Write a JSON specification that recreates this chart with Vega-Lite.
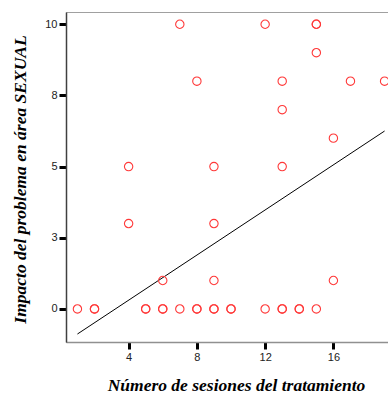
{
  "$schema": "https://vega.github.io/schema/vega-lite/v6.json",
  "autosize": "none",
  "width": 322,
  "height": 330,
  "padding": {"left": 66, "top": 12, "right": 0, "bottom": 55},
  "background": "white",
  "config": {
    "view": {"stroke": "#a0a0a0", "strokeWidth": 1},
    "axis": {
      "grid": false,
      "labelFont": "Liberation Sans",
      "labelFontSize": 11,
      "labelColor": "#222",
      "tickColor": "black",
      "tickWidth": 3,
      "tickSize": 7,
      "labelPadding": 2,
      "titleFont": "Liberation Serif",
      "titleFontStyle": "italic",
      "titleFontWeight": "bold",
      "titleFontSize": 17.5,
      "titleColor": "black"
    }
  },
  "datasets": {
    "pts": [
      {"sesiones": 7, "impacto": 10}, {"sesiones": 12, "impacto": 10}, {"sesiones": 15, "impacto": 10}, {"sesiones": 15, "impacto": 10},
      {"sesiones": 15, "impacto": 9},
      {"sesiones": 8, "impacto": 8}, {"sesiones": 13, "impacto": 8}, {"sesiones": 17, "impacto": 8}, {"sesiones": 19, "impacto": 8},
      {"sesiones": 13, "impacto": 7},
      {"sesiones": 16, "impacto": 6},
      {"sesiones": 4, "impacto": 5}, {"sesiones": 9, "impacto": 5}, {"sesiones": 13, "impacto": 5},
      {"sesiones": 4, "impacto": 3}, {"sesiones": 9, "impacto": 3},
      {"sesiones": 6, "impacto": 1}, {"sesiones": 9, "impacto": 1}, {"sesiones": 16, "impacto": 1},
      {"sesiones": 1, "impacto": 0}, {"sesiones": 2, "impacto": 0}, {"sesiones": 2, "impacto": 0},
      {"sesiones": 5, "impacto": 0}, {"sesiones": 5, "impacto": 0}, {"sesiones": 6, "impacto": 0}, {"sesiones": 6, "impacto": 0},
      {"sesiones": 7, "impacto": 0}, {"sesiones": 8, "impacto": 0}, {"sesiones": 8, "impacto": 0},
      {"sesiones": 9, "impacto": 0}, {"sesiones": 9, "impacto": 0}, {"sesiones": 10, "impacto": 0}, {"sesiones": 10, "impacto": 0},
      {"sesiones": 12, "impacto": 0}, {"sesiones": 13, "impacto": 0}, {"sesiones": 13, "impacto": 0},
      {"sesiones": 14, "impacto": 0}, {"sesiones": 14, "impacto": 0}, {"sesiones": 15, "impacto": 0}
    ],
    "fit": [
      {"sesiones": 1, "impacto": -0.88},
      {"sesiones": 19, "impacto": 6.25}
    ]
  },
  "encoding": {
    "x": {
      "field": "sesiones", "type": "quantitative",
      "scale": {"domain": [0.33, 19.2], "nice": false, "zero": false},
      "axis": {
        "values": [4, 8, 12, 16],
        "title": "Número de sesiones del tratamiento",
        "domainColor": "#909090", "domainWidth": 1.5,
        "titleX": 170, "titleY": 43, "titleBaseline": "middle"
      }
    },
    "y": {
      "field": "impacto", "type": "quantitative",
      "scale": {"domain": [-1.16, 10.43], "nice": false, "zero": false},
      "axis": {
        "values": [0, 2.5, 5, 7.5, 10],
        "format": ".0f",
        "title": "Impacto del problema en área SEXUAL",
        "domainColor": "#404040", "domainWidth": 1.5,
        "titleX": -46, "titleY": 167, "titleBaseline": "middle", "titleAlign": "center"
      }
    }
  },
  "layer": [
    {
      "data": {"name": "fit"},
      "mark": {"type": "line", "color": "black", "strokeWidth": 1}
    },
    {
      "data": {"name": "pts"},
      "mark": {"type": "point", "shape": "circle", "filled": false, "color": "#ff3838", "size": 70, "strokeWidth": 1.1, "opacity": 1}
    }
  ]
}
